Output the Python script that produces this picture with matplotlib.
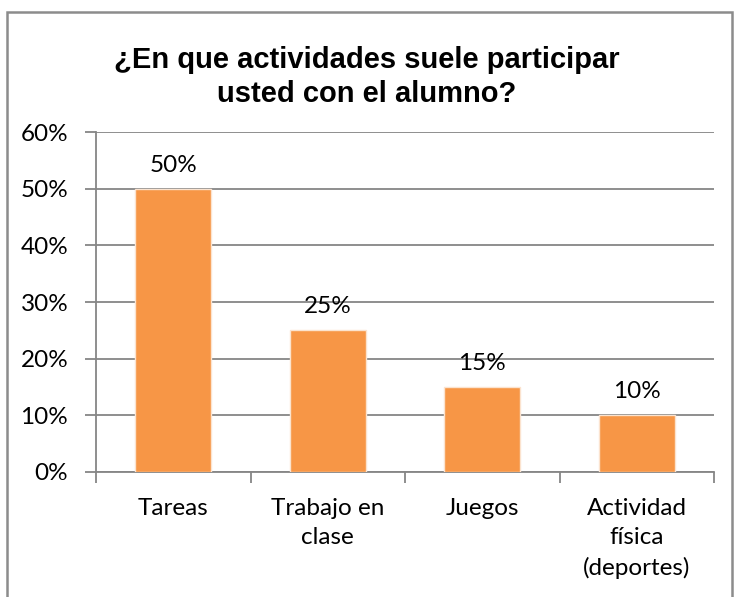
import matplotlib
matplotlib.use("Agg")
import matplotlib.pyplot as plt
from matplotlib.patches import Rectangle

categories = ["Tareas", "Trabajo en\nclase", "Juegos", "Actividad\nfísica\n(deportes)"]
values = [0.50, 0.25, 0.15, 0.10]
value_labels = ["50%", "25%", "15%", "10%"]
yticks = [0, 0.1, 0.2, 0.3, 0.4, 0.5, 0.6]
ytick_labels = ["0%", "10%", "20%", "30%", "40%", "50%", "60%"]
title_lines = ["¿En que actividades suele participar", "usted con el alumno?"]

W, H = 734, 597
fig = plt.figure(figsize=(W / 100, H / 100), dpi=100)
fig.patch.set_facecolor("white")

# outer chart frame
fig.patches.append(Rectangle((7 / W, -0.05), (732 - 7) / W, 1.05 - 12 / H,
                             transform=fig.transFigure, fill=False,
                             edgecolor="#8c8c8c", linewidth=1.8))

ax = fig.add_axes([96 / W, 1 - 472 / H, (714 - 96) / W, (472 - 132) / H])

grid_c = "#868686"
x = list(range(len(categories)))
ax.bar(x, values, width=0.49, color="#F79646", edgecolor="#fbe3cf",
       linewidth=1.0, zorder=3)

ax.set_xlim(-0.5, len(categories) - 0.5)
ax.set_ylim(0, 0.6)
ax.set_yticks(yticks)
ax.set_yticklabels(ytick_labels)
ax.yaxis.grid(True, color=grid_c, linewidth=1.3, zorder=0)
ax.set_axisbelow(True)

ax.set_xticks(x)
ax.set_xticklabels(categories, linespacing=1.5)
ax.set_xticks([i - 0.5 for i in range(len(categories) + 1)], minor=True)
ax.tick_params(axis="x", which="major", length=0, pad=18.5)
ax.tick_params(axis="x", which="minor", length=8, width=1.3, color=grid_c, direction="out")
ax.tick_params(axis="y", length=8, width=1.3, color=grid_c, pad=12)

FS = 17.5
for lab in ax.get_xticklabels() + ax.get_yticklabels():
    lab.set_fontfamily("Lato")
    lab.set_fontsize(FS)
    lab.set_color("black")

for s in ["top", "right"]:
    ax.spines[s].set_visible(False)
for s in ["left", "bottom"]:
    ax.spines[s].set_color(grid_c)
    ax.spines[s].set_linewidth(1.3)

for xi, v, t in zip(x, values, value_labels):
    ax.annotate(t, (xi, v), xytext=(0, 17), textcoords="offset points",
                ha="center", va="center", fontfamily="Lato", fontsize=FS, color="black")

for line, base in zip(title_lines, [68, 102]):
    fig.text(0.5, 1 - base / H, line, ha="center", va="baseline",
             fontfamily="Liberation Sans", fontweight="bold", fontsize=21, color="black")

fig.savefig("out.png", dpi=100)
